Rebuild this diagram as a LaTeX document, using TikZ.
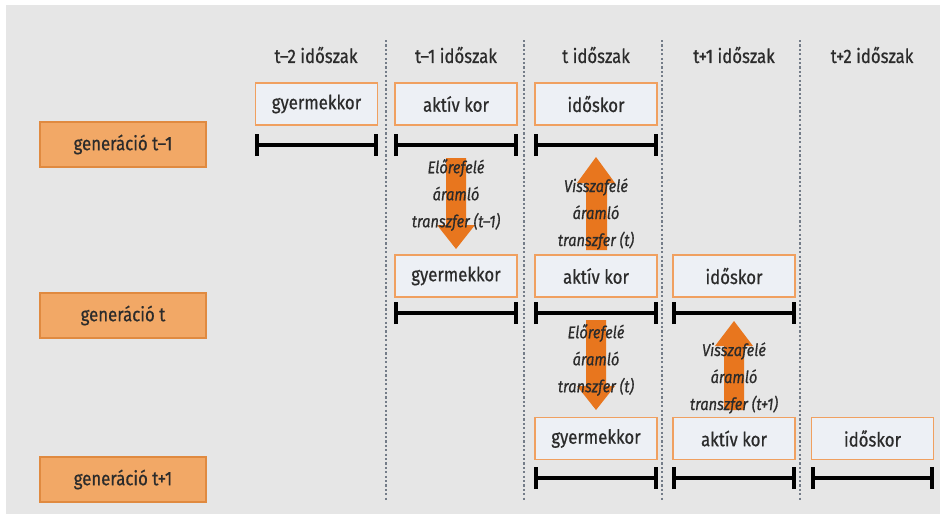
\documentclass[tikz,border=0pt]{standalone}
\usepackage{fontspec}
\setmainfont{Fira Sans}[FakeStretch=0.86,FakeBold=0.6]
\usetikzlibrary{arrows.meta}

\definecolor{panel}{HTML}{E6E6E6}
\definecolor{genfill}{HTML}{F2A866}
\definecolor{genline}{HTML}{E08A40}
\definecolor{agefill}{HTML}{EDF0F5}
\definecolor{ageline}{HTML}{F0A060}
\definecolor{flowor}{HTML}{E8761E}
\definecolor{ink}{HTML}{2B2B2B}
\definecolor{divider}{HTML}{747C88}

\tikzset{
  gen/.style={draw=genline, fill=genfill, line width=1.3pt,
    minimum width=166pt, minimum height=45pt, inner sep=0pt,
    text=ink, font=\fontsize{19.5}{22}\selectfont},
  age/.style={draw=ageline, fill=agefill, line width=1.2pt,
    minimum width=122pt, minimum height=42pt, inner sep=0pt,
    text=ink, font=\fontsize{19.5}{22}\selectfont},
  hdr/.style={text=ink, font=\fontsize{19.5}{22}\selectfont},
  lbl/.style={text=ink, align=center, inner sep=0pt,
    font=\itshape\fontsize{17}{27}\selectfont},
  span/.style={line width=3.6pt, {Bar[width=22pt,line width=4pt]}-{Bar[width=22pt,line width=4pt]}},
  divline/.style={draw=divider, line width=1.4pt, dash pattern=on 2.2pt off 2.2pt},
  flow/.style={fill=flowor}
}

\begin{document}
\begin{tikzpicture}[x=1pt,y=-1pt]
  % page and grey panel
  \fill[white] (0,0) rectangle (942,517);
  \fill[panel] (6,5) rectangle (940,514);
  \useasboundingbox (0,0) rectangle (942,517);

  % period dividers
  \foreach \x in {386,524,662,800}
    \draw[divline] (\x,40) -- (\x,500);

  % period headers
  \node[hdr] (h1) at (316,55) {t–2 időszak};
  \node[hdr] (h2) at (456,55) {t–1 időszak};
  \node[hdr] (h3) at (596,55) {t időszak};
  \node[hdr] (h4) at (734,55) {t+1 időszak};
  \node[hdr] (h5) at (872,55) {t+2 időszak};

  % generations
  \node[gen] (g1) at (123,144.5) {generáció t–1};
  \node[gen] (g2) at (123,315.5) {generáció t};
  \node[gen] (g3) at (123,479.5) {generáció t+1};

  % life stages, generation t-1
  \node[age] (a11) at (316.5,104) {gyermekkor};
  \node[age] (a12) at (456,104) {aktív kor};
  \node[age] (a13) at (596,104) {időskor};
  % life stages, generation t
  \node[age] (a21) at (456,276) {gyermekkor};
  \node[age] (a22) at (596,276) {aktív kor};
  \node[age] (a23) at (734,276) {időskor};
  % life stages, generation t+1
  \node[age] (a31) at (596,438.5) {gyermekkor};
  \node[age] (a32) at (734,438.5) {aktív kor};
  \node[age] (a33) at (872.5,438.5) {időskor};

  % row levels of the time spans
  \coordinate (r1) at (0,145);
  \coordinate (r2) at (0,313);
  \coordinate (r3) at (0,478);
  \foreach \b/\r in {a11/r1,a12/r1,a13/r1,a21/r2,a22/r2,a23/r2,a31/r3,a32/r3,a33/r3}
    \draw[span] (\b.west |- \r) -- (\b.east |- \r);

  % transfer arrows
  \fill[flow] (446,158) -- (466,158) -- (466,225) -- (475,225) -- (456,249)
              -- (437,225) -- (446,225) -- cycle;
  \fill[flow] (586,250) -- (607,250) -- (607,183) -- (615,183) -- (596,157)
              -- (577,183) -- (586,183) -- cycle;
  \fill[flow] (586,320) -- (606,320) -- (606,386) -- (615,386) -- (596,410)
              -- (577,386) -- (586,386) -- cycle;
  \fill[flow] (724,410) -- (744,410) -- (744,346) -- (753,346) -- (734,321)
              -- (715,346) -- (724,346) -- cycle;

  % transfer labels
  \node[lbl] (t1) at (456,195) {Előrefelé\\áramló\\transzfer (t–1)};
  \node[lbl] (t2) at (596,214) {Visszafelé\\áramló\\transzfer (t)};
  \node[lbl] (t3) at (596,360) {Előrefelé\\áramló\\transzfer (t)};
  \node[lbl] (t4) at (734,378) {Visszafelé\\áramló\\transzfer (t+1)};
\end{tikzpicture}
\end{document}
